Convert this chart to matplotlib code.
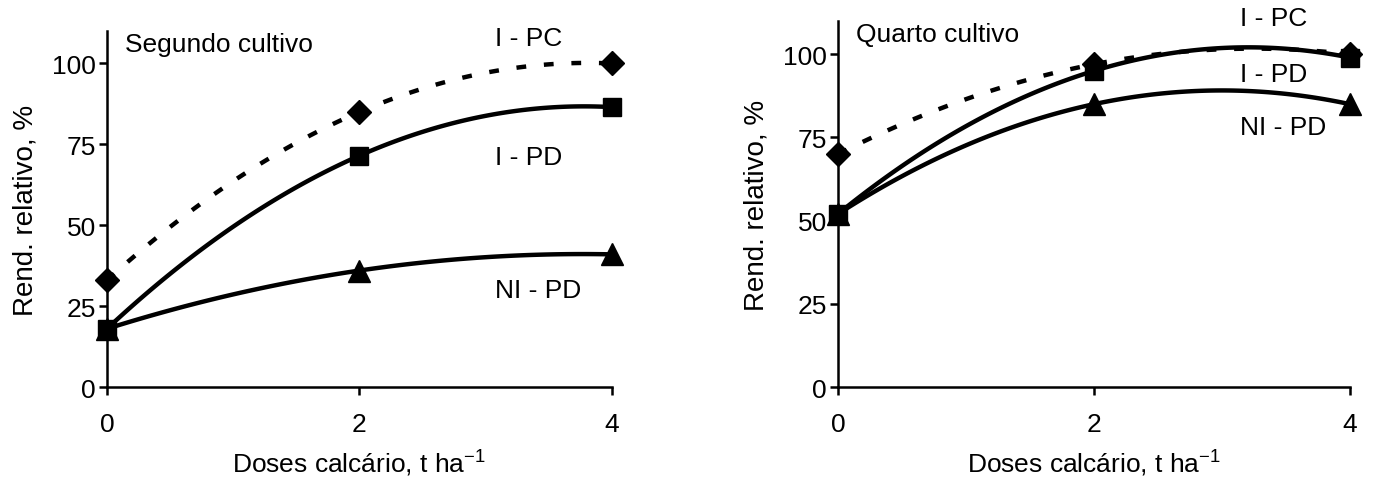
import numpy as np
import matplotlib
matplotlib.use("Agg")
import matplotlib.pyplot as plt

plt.rcParams.update({
    "font.family": ["Liberation Sans", "DejaVu Sans"], "font.size": 19,
    "axes.spines.top": False, "axes.spines.right": False,
    "axes.linewidth": 1.8,
})

doses = [0, 2, 4]
# segundo cultivo
seg_ipc = [33, 85, 100]
seg_ipd = [18, 71.5, 86.5]
seg_nipd = [18, 36, 41]
# quarto cultivo
qua_ipc = [70, 97, 100]
qua_ipd = [52, 95, 99]
qua_nipd = [52, 85, 85]


def trend(ax, y, dashed=False):
    # quadratic trendline through the three means
    c = np.polyfit(doses, y, 2)
    xs = np.linspace(0, 4, 120)
    ln, = ax.plot(xs, np.polyval(c, xs), color="black", lw=3.2, zorder=2, clip_on=False)
    if dashed:
        ln.set_dashes((2.2, 4.0))
        ln.set_dash_capstyle("butt")


def panel(ax, ipc, ipd, nipd, title, labels):
    trend(ax, nipd)
    trend(ax, ipd)
    trend(ax, ipc, dashed=True)
    ax.plot(doses, nipd, "^", color="black", ms=16, zorder=3, clip_on=False)
    ax.plot(doses, ipc, "D", color="black", ms=12.5, zorder=4, clip_on=False)
    ax.plot(doses, ipd, "s", color="black", ms=13.5, zorder=5, clip_on=False)
    ax.set_xlim(0, 4)
    ax.set_ylim(0, 110)
    ax.set_xticks([0, 2, 4])
    ax.set_yticks([0, 25, 50, 75, 100])
    ax.tick_params(direction="out", length=6, width=1.8, labelsize=19, pad=2)
    ax.tick_params(axis="x", pad=12)
    ax.set_xlabel("Doses calcário, t ha$^{\\mathregular{-1}}$", fontsize=19, va="bottom")
    h = ax.get_position().height * 481
    ax.xaxis.set_label_coords(0.5, -90 / h)
    ax.set_ylabel("Rend. relativo, %", fontsize=20, labelpad=10)
    ax.text(0.14, 106, title, fontsize=19, va="center", ha="left")
    for txt, (x, y) in labels.items():
        ax.text(x, y, txt, fontsize=19, va="center", ha="left")


fig = plt.figure(figsize=(13.73, 4.81), dpi=100)
ax1 = fig.add_axes([0.0779, 0.1933, 0.3678, 0.740])
ax2 = fig.add_axes([0.6103, 0.1933, 0.3729, 0.761])

panel(ax1, seg_ipc, seg_ipd, seg_nipd, "Segundo cultivo",
      {"I - PC": (3.07, 108), "I - PD": (3.07, 71), "NI - PD": (3.07, 30)})
panel(ax2, qua_ipc, qua_ipd, qua_nipd, "Quarto cultivo",
      {"I - PC": (3.14, 111), "I - PD": (3.14, 94), "NI - PD": (3.14, 78)})

fig.savefig("out.png", dpi=100)
